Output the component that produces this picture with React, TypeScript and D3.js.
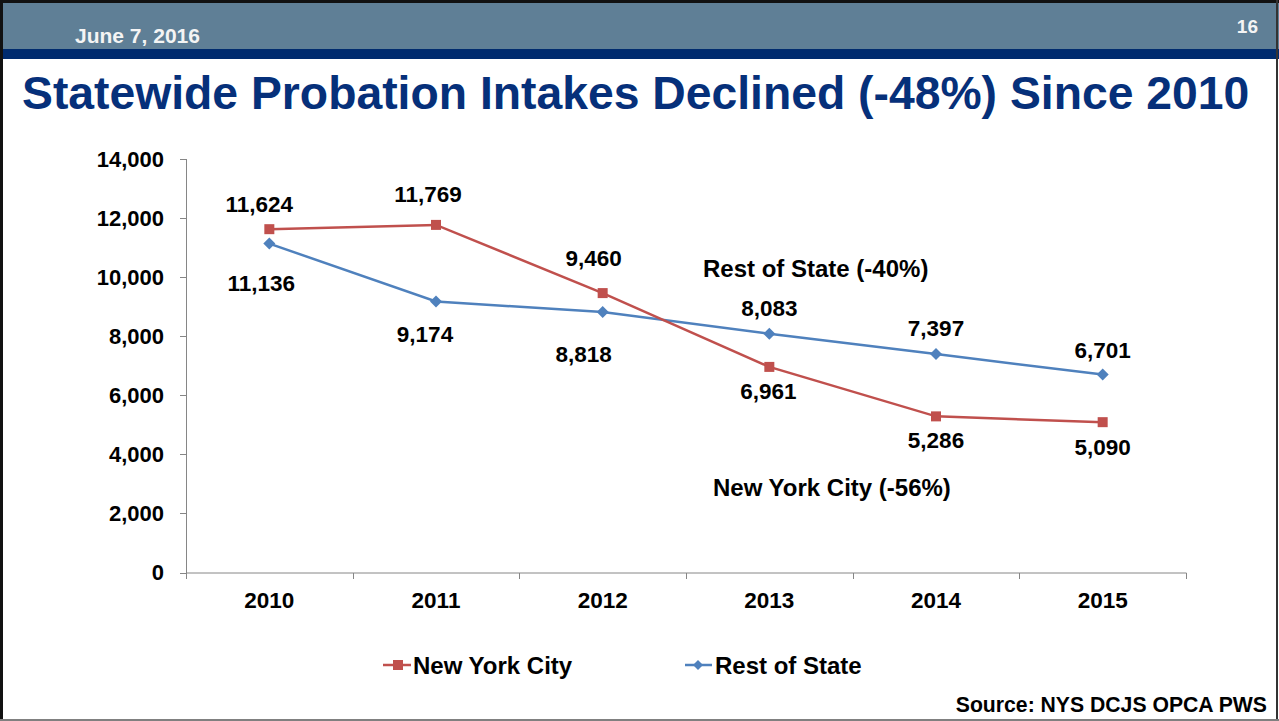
import React from "react";
import * as d3 from "d3";

const years = ["2010", "2011", "2012", "2013", "2014", "2015"];
const nycValues = [11624, 11769, 9460, 6961, 5286, 5090];
const restValues = [11136, 9174, 8818, 8083, 7397, 6701];
const yTicks = [0, 2000, 4000, 6000, 8000, 10000, 12000, 14000];
const seriesNames = ["New York City", "Rest of State"];
const annotations = ["Rest of State (-40%)", "New York City (-56%)"];

// label placement offsets (layout, not data)
const nycLabelDx = [-10, -8, -9, -1, 0, 0];
const nycLabelDy = [-17, -23, -27, 32, 32, 33];
const restLabelDx = [-8, -11, -19, 0, 0, 0];
const restLabelDy = [47, 40, 50, -18, -18, -17];

const W = 1279;
const H = 721;
const FONT = "'Liberation Sans', Arial, Helvetica, sans-serif";
const RED = "#c0504d";
const BLUE = "#4f81bd";
const AXIS = "#868686";

export default function App() {
  const x = d3.scaleBand<string>().domain(years).range([186, 1186]);
  const y = d3.scaleLinear().domain([0, 14000]).range([572.5, 159]);
  const cx = (yr: string) => (x(yr) as number) + x.bandwidth() / 2;
  const line = d3
    .line<number>()
    .x((_, i) => cx(years[i]))
    .y((v) => y(v));
  const fmt = d3.format(",");
  const edges = years.map((yr) => x(yr) as number).concat([1186]);

  const diamond = (px: number, py: number, r: number) =>
    `M${px},${py - r}L${px + r},${py}L${px},${py + r}L${px - r},${py}Z`;

  return (
    <svg
      width={W}
      height={H}
      style={{ position: "absolute", left: 0, top: 0, display: "block", background: "#fff" }}
      fontFamily={FONT}
    >
      <rect x={0} y={0} width={W} height={H} fill="#fff" />
      {/* header */}
      <rect x={0} y={3} width={W} height={46} fill="#5f7f96" />
      <rect x={0} y={49} width={W} height={10} fill="#002b6e" />
      <rect x={0} y={0} width={W} height={3} fill="#111" />
      <rect x={0} y={0} width={3} height={H} fill="#111" />
      <rect x={1276} y={0} width={2} height={H} fill="#333" />
      <rect x={0} y={719} width={W} height={2} fill="#808080" />
      <text x={75} y={43} fill="#f4f4f4" fontSize={21} fontWeight="bold">
        June 7, 2016
      </text>
      <text x={1258} y={33} fill="#f4f4f4" fontSize={19} fontWeight="bold" textAnchor="end">
        16
      </text>
      {/* title */}
      <text x={22} y={109} fill="#06307a" fontSize={46.3} fontWeight="bold">
        Statewide Probation Intakes Declined (-48%) Since 2010
      </text>

      {/* axes */}
      <line x1={186.5} x2={186.5} y1={159} y2={573} stroke={AXIS} strokeWidth={1} />
      {yTicks.map((t) => (
        <g key={t}>
          <line x1={180} x2={186.5} y1={Math.round(y(t)) + 0.5} y2={Math.round(y(t)) + 0.5} stroke={AXIS} />
          <text
            x={164}
            y={y(t)}
            dy="0.35em"
            textAnchor="end"
            fontSize={22}
            fontWeight="bold"
            fill="#000"
          >
            {fmt(t)}
          </text>
        </g>
      ))}
      <line x1={186} x2={1186.5} y1={573} y2={573} stroke={AXIS} strokeWidth={1} />
      {edges.map((e, i) => (
        <line key={i} x1={Math.round(e) + 0.5} x2={Math.round(e) + 0.5} y1={573} y2={579} stroke={AXIS} />
      ))}
      {years.map((yr) => (
        <text key={yr} x={cx(yr)} y={608} textAnchor="middle" fontSize={22.5} fontWeight="bold" fill="#000">
          {yr}
        </text>
      ))}

      {/* lines */}
      <path d={line(restValues) || ""} fill="none" stroke={BLUE} strokeWidth={2.5} />
      <path d={line(nycValues) || ""} fill="none" stroke={RED} strokeWidth={2.5} />
      {restValues.map((v, i) => (
        <path key={"rm" + i} d={diamond(cx(years[i]), y(v), 6)} fill={BLUE} />
      ))}
      {nycValues.map((v, i) => (
        <rect key={"nm" + i} x={cx(years[i]) - 5} y={y(v) - 5} width={10} height={10} fill={RED} />
      ))}

      {/* data labels */}
      {nycValues.map((v, i) => (
        <text
          key={"nl" + i}
          x={cx(years[i]) + nycLabelDx[i]}
          y={y(v) + nycLabelDy[i]}
          textAnchor="middle"
          fontSize={22.5}
          fontWeight="bold"
          fill="#000"
        >
          {fmt(v)}
        </text>
      ))}
      {restValues.map((v, i) => (
        <text
          key={"rl" + i}
          x={cx(years[i]) + restLabelDx[i]}
          y={y(v) + restLabelDy[i]}
          textAnchor="middle"
          fontSize={22.5}
          fontWeight="bold"
          fill="#000"
        >
          {fmt(v)}
        </text>
      ))}

      {/* annotations */}
      <text x={703} y={277} fontSize={24} fontWeight="bold" fill="#000">
        {annotations[0]}
      </text>
      <text x={713} y={496} fontSize={24} fontWeight="bold" fill="#000">
        {annotations[1]}
      </text>

      {/* legend */}
      <line x1={383} x2={411} y1={665} y2={665} stroke={RED} strokeWidth={2.5} />
      <rect x={393} y={660} width={10} height={10} fill={RED} />
      <text x={413} y={674} fontSize={24} fontWeight="bold" fill="#000">
        {seriesNames[0]}
      </text>
      <line x1={685} x2={712} y1={665} y2={665} stroke={BLUE} strokeWidth={2.5} />
      <path d={diamond(698, 665, 5)} fill={BLUE} />
      <text x={715} y={674} fontSize={24} fontWeight="bold" fill="#000">
        {seriesNames[1]}
      </text>

      {/* source */}
      <text x={1267} y={712} textAnchor="end" fontSize={21.2} fontWeight="bold" fill="#000">
        Source: NYS DCJS OPCA PWS
      </text>
    </svg>
  );
}
